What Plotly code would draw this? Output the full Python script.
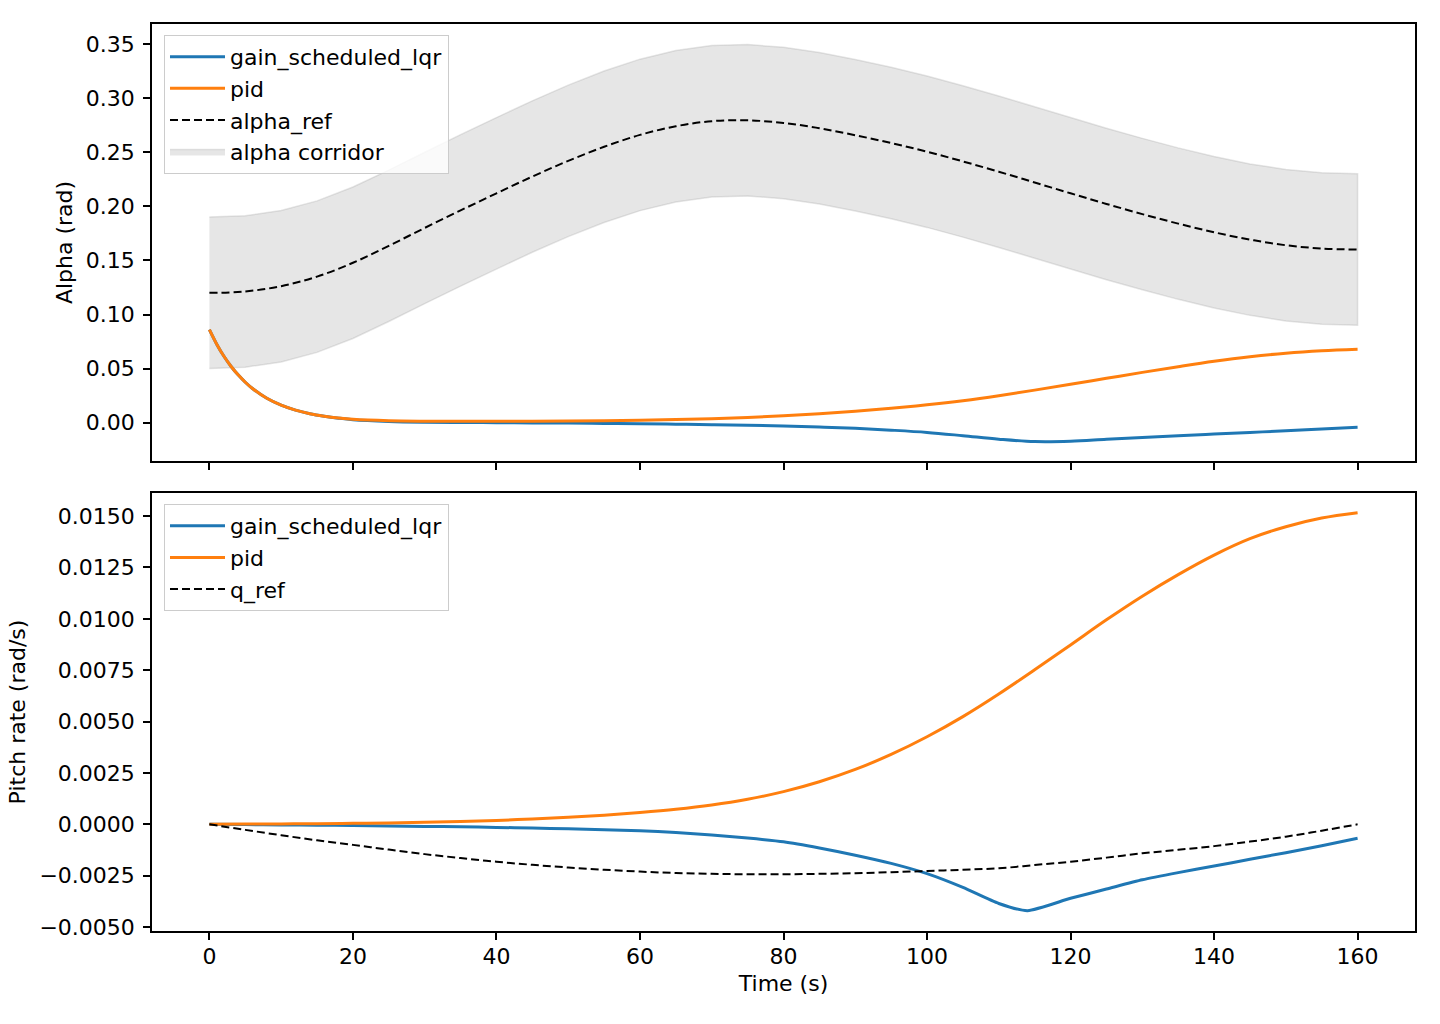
import plotly.graph_objects as go

# ---------------- data ----------------
t_ref = [0, 5, 10, 15, 20, 25, 30, 35, 40, 45, 50, 55, 60, 65, 70, 75, 80, 85, 90,
         95, 100, 105, 110, 115, 120, 125, 130, 135, 140, 145, 150, 155, 160]
alpha_ref = [0.1200, 0.1213, 0.1262, 0.1350, 0.1478, 0.1635, 0.1800, 0.1962, 0.2120,
             0.2275, 0.2420, 0.2550, 0.2660, 0.2740, 0.2787, 0.2795, 0.2770, 0.2722,
             0.2657, 0.2585, 0.2505, 0.2415, 0.2320, 0.2220, 0.2120, 0.2022, 0.1928,
             0.1840, 0.1760, 0.1692, 0.1640, 0.1610, 0.1600]
corridor_upper = [0.1900, 0.1913, 0.1962, 0.2050, 0.2178, 0.2335, 0.2500, 0.2662, 0.2820,
                  0.2975, 0.3120, 0.3250, 0.3360, 0.3440, 0.3487, 0.3495, 0.3470, 0.3422,
                  0.3357, 0.3285, 0.3205, 0.3115, 0.3020, 0.2920, 0.2820, 0.2722, 0.2628,
                  0.2540, 0.2460, 0.2392, 0.2340, 0.2310, 0.2300]
corridor_lower = [0.0500, 0.0513, 0.0562, 0.0650, 0.0778, 0.0935, 0.1100, 0.1262, 0.1420,
                  0.1575, 0.1720, 0.1850, 0.1960, 0.2040, 0.2087, 0.2095, 0.2070, 0.2022,
                  0.1957, 0.1885, 0.1805, 0.1715, 0.1620, 0.1520, 0.1420, 0.1322, 0.1228,
                  0.1140, 0.1060, 0.0992, 0.0940, 0.0910, 0.0900]

t_alpha = [0, 1, 2, 3, 4, 5, 6, 8, 10, 12, 14, 16, 18, 20, 25, 30, 35, 40, 45, 50, 55,
           60, 65, 70, 75, 80, 85, 90, 95, 100, 105, 110, 115, 120, 125, 130, 135, 140,
           145, 150, 155, 160]
alpha_pid = [0.086, 0.0728, 0.0616, 0.0522, 0.0442, 0.0374, 0.0316, 0.0226, 0.0162,
             0.0116, 0.0083, 0.0060, 0.0043, 0.0031, 0.0018, 0.0014, 0.0013, 0.0013,
             0.0014, 0.0016, 0.0019, 0.0023, 0.0029, 0.0037, 0.0049, 0.0064, 0.0082,
             0.0105, 0.0133, 0.0165, 0.0203, 0.0249, 0.0301, 0.0355, 0.0410, 0.0465,
             0.0518, 0.0568, 0.0610, 0.0642, 0.0664, 0.0678]
alpha_lqr = [0.086, 0.0728, 0.0616, 0.0522, 0.0442, 0.0374, 0.0316, 0.0226, 0.0162,
             0.0116, 0.0083, 0.0060, 0.0042, 0.0028, 0.0012, 0.0005, 0.0002, 0.0000,
             -0.0002, -0.0004, -0.0007, -0.0010, -0.0014, -0.0018, -0.0023, -0.0030,
             -0.0040, -0.0052, -0.0069, -0.0090, -0.0120, -0.0152, -0.0174, -0.0171,
             -0.0153, -0.0136, -0.0120, -0.0105, -0.0090, -0.0075, -0.0058, -0.0042]

t_q = [0, 5, 10, 15, 20, 25, 30, 35, 40, 45, 50, 55, 60, 65, 70, 75, 80, 85, 90, 95,
       100, 105, 110, 115, 120, 125, 130, 135, 140, 145, 150, 155, 160]
q_pid = [0.0, 0.00001, 0.00002, 0.00003, 0.00005, 0.00007, 0.0001, 0.00014, 0.00019,
         0.00026, 0.00034, 0.00044, 0.00057, 0.00073, 0.00094, 0.00122, 0.00159,
         0.00207, 0.00267, 0.0034, 0.00426, 0.00524, 0.00634, 0.00752, 0.00873,
         0.00995, 0.0111, 0.01215, 0.0131, 0.0139, 0.01448, 0.0149, 0.01516]
q_ref = [0.0, -0.00027, -0.00053, -0.00078, -0.0010, -0.00123, -0.00145, -0.00164,
         -0.00182, -0.00197, -0.0021, -0.00221, -0.0023, -0.00237, -0.00241, -0.00243,
         -0.00243, -0.00241, -0.00238, -0.00233, -0.00227, -0.00221, -0.00214, -0.00198,
         -0.00182, -0.00162, -0.00141, -0.00124, -0.00106, -0.00084, -0.0006, -0.00031,
         0.0]

t_q_lqr = [0, 5, 10, 15, 20, 25, 30, 35, 40, 45, 50, 55, 60, 65, 70, 75, 80, 85, 90,
           95, 100, 105, 110, 114, 120, 125, 130, 135, 140, 145, 150, 155, 160]
q_lqr = [0.0, -0.00001, -0.00003, -0.00004, -0.00006, -0.00008, -0.0001, -0.00012,
         -0.00015, -0.00018, -0.00022, -0.00026, -0.00031, -0.0004, -0.00052, -0.00067,
         -0.00085, -0.00115, -0.0015, -0.0019, -0.0024, -0.00307, -0.00385, -0.0042,
         -0.0036, -0.00315, -0.0027, -0.00235, -0.00203, -0.0017, -0.00138, -0.00104,
         -0.00068]

BLUE = "#1f77b4"
ORANGE = "#ff7f0e"
FONT = "DejaVu Sans"
FS = 22
DASH = "8px,4px"

fig = go.Figure()

# corridor polygon (closed) so its edge runs all round like fill_between
fig.add_trace(go.Scatter(
    x=t_ref + t_ref[::-1], y=corridor_upper + corridor_lower[::-1],
    mode="lines", fill="toself", fillcolor="rgba(128,128,128,0.2)",
    line=dict(color="rgba(128,128,128,0.2)", width=1.5, simplify=False),
    name="alpha corridor", legend="legend", legendrank=4,
    xaxis="x", yaxis="y"))
fig.add_trace(go.Scatter(x=t_alpha, y=alpha_lqr, mode="lines", name="gain_scheduled_lqr",
                         line=dict(color=BLUE, width=3, shape="spline", smoothing=1.0,
                                   simplify=False),
                         legend="legend", legendrank=1, xaxis="x", yaxis="y"))
fig.add_trace(go.Scatter(x=t_alpha, y=alpha_pid, mode="lines", name="pid",
                         line=dict(color=ORANGE, width=3, shape="spline", smoothing=1.0,
                                   simplify=False),
                         legend="legend", legendrank=2, xaxis="x", yaxis="y"))
fig.add_trace(go.Scatter(x=t_ref, y=alpha_ref, mode="lines", name="alpha_ref",
                         line=dict(color="black", width=2, dash=DASH, shape="spline",
                                   smoothing=1.0, simplify=False),
                         legend="legend", legendrank=3, xaxis="x", yaxis="y"))

fig.add_trace(go.Scatter(x=t_q_lqr, y=q_lqr, mode="lines", name="gain_scheduled_lqr",
                         line=dict(color=BLUE, width=3, shape="spline", smoothing=0.6,
                                   simplify=False),
                         legend="legend2", legendrank=1, xaxis="x2", yaxis="y2"))
fig.add_trace(go.Scatter(x=t_q, y=q_pid, mode="lines", name="pid",
                         line=dict(color=ORANGE, width=3, shape="spline", smoothing=1.0,
                                   simplify=False),
                         legend="legend2", legendrank=2, xaxis="x2", yaxis="y2"))
fig.add_trace(go.Scatter(x=t_q, y=q_ref, mode="lines", name="q_ref",
                         line=dict(color="black", width=2, dash=DASH, shape="spline",
                                   smoothing=1.0, simplify=False),
                         legend="legend2", legendrank=3, xaxis="x2", yaxis="y2"))

axis_common = dict(showline=True, linecolor="black", linewidth=1.6, mirror=True,
                   ticks="outside", ticklen=7, tickwidth=1.6, tickcolor="black",
                   showgrid=False, zeroline=False, automargin=False,
                   tickfont=dict(family=FONT, size=FS, color="black"))

legend_common = dict(bgcolor="rgba(255,255,255,0.8)", bordercolor="#cccccc", borderwidth=1,
                     font=dict(family=FONT, size=FS, color="black"),
                     xanchor="left", yanchor="top", itemwidth=55, traceorder="normal")

fig.update_layout(
    width=1440, height=1024,
    margin=dict(l=152, r=25, t=24, b=93, pad=0),
    paper_bgcolor="white", plot_bgcolor="white",
    font=dict(family=FONT, size=FS, color="black"),
    xaxis=dict(domain=[0, 1], anchor="y", range=[-8, 168], dtick=20, tick0=0,
               showticklabels=False, **axis_common),
    yaxis=dict(domain=[0.5182, 1], anchor="x", range=[-0.0354, 0.3685], dtick=0.05,
               tick0=0, tickformat=".2f", ticklabelstandoff=4,
               title=dict(text="Alpha (rad)", standoff=7, font=dict(family=FONT, size=FS)),
               **axis_common),
    xaxis2=dict(domain=[0, 1], anchor="y2", range=[-8, 168], dtick=20, tick0=0,
                matches="x", ticklabelstandoff=-2,
                title=dict(text="Time (s)", standoff=7, font=dict(family=FONT, size=FS)),
                **axis_common),
    yaxis2=dict(domain=[0, 0.4829], anchor="x2", range=[-0.00519, 0.01612], dtick=0.0025,
                tick0=0, tickformat=".4f", ticklabelstandoff=4,
                title=dict(text="Pitch rate (rad/s)", standoff=8,
                           font=dict(family=FONT, size=FS)),
                **axis_common),
    legend=dict(x=0.0095, y=0.9879, **legend_common),
    legend2=dict(x=0.0095, y=0.4708, **legend_common),
)

fig.write_html("out.html")
